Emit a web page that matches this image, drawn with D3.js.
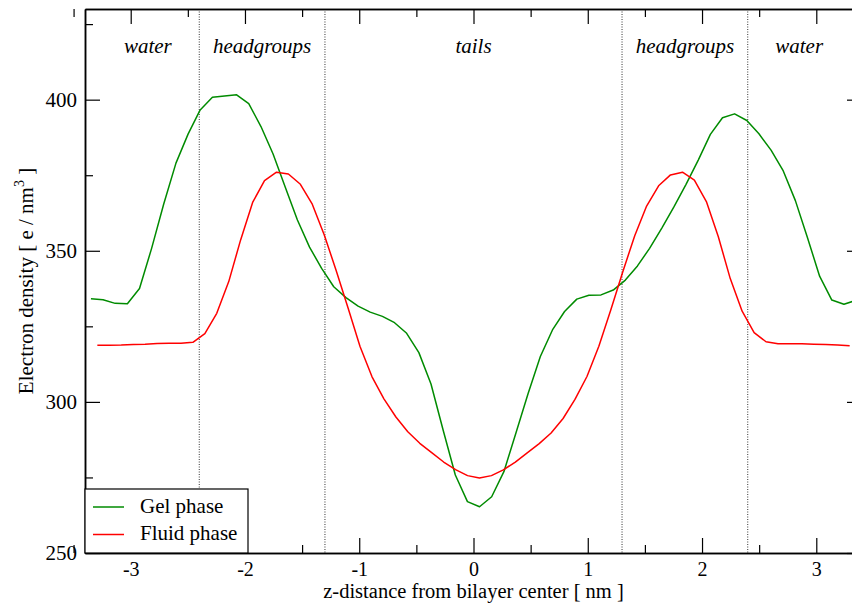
<!DOCTYPE html>
<html>
<head>
<meta charset="utf-8">
<script src="https://cdn.jsdelivr.net/npm/d3@7"></script>
<style>
  body { margin: 0; background: #fff; }
  svg { display: block; overflow: hidden; }
  text { font-family: "Liberation Serif", "Times New Roman", serif; fill: #000; }
</style>
</head>
<body>
<svg id="chart" width="852" height="607"></svg>
<script>
// Electron density profiles across the bilayer (z in nm, density in e/nm^3)
const gelZ = [
  -3.348, -3.242, -3.136, -3.029, -2.923, -2.817, -2.711, -2.604,
  -2.498, -2.392, -2.285, -2.179, -2.073, -1.967, -1.860, -1.754,
  -1.648, -1.541, -1.435, -1.329, -1.223, -1.116, -1.010, -0.904,
  -0.797, -0.691, -0.585, -0.478, -0.372, -0.266, -0.159, -0.053,
   0.053,  0.159,  0.266,  0.372,  0.478,  0.585,  0.691,  0.797,
   0.904,  1.010,  1.116,  1.223,  1.329,  1.435,  1.541,  1.648,
   1.754,  1.860,  1.967,  2.073,  2.179,  2.285,  2.392,  2.498,
   2.604,  2.711,  2.817,  2.923,  3.029,  3.136,  3.242,  3.348
];
const gelDensity = [
  334.1, 333.8, 332.6, 332.5, 337.5, 350.8, 365.5, 379.0,
  388.6, 396.6, 400.8, 401.2, 401.6, 398.7, 391.1, 382.0,
  371.1, 360.2, 351.2, 344.2, 338.1, 334.5, 331.7, 329.7,
  328.3, 326.2, 322.7, 316.3, 305.9, 290.7, 275.8, 267.0,
  265.3, 268.6, 276.9, 289.8, 302.8, 315.0, 323.8, 329.9,
  334.0, 335.3, 335.4, 337.0, 340.3, 345.0, 350.8, 357.5,
  364.5, 372.0, 380.0, 388.5, 394.0, 395.3, 393.1, 388.7,
  383.3, 376.4, 366.6, 354.3, 341.6, 333.7, 332.3, 333.6
];

const fluidZ = [
  -3.292, -3.187, -3.083, -2.978, -2.874, -2.769, -2.665, -2.560,
  -2.456, -2.351, -2.247, -2.142, -2.038, -1.933, -1.829, -1.724,
  -1.620, -1.515, -1.411, -1.306, -1.202, -1.097, -0.993, -0.888,
  -0.784, -0.679, -0.575, -0.470, -0.366, -0.261, -0.157, -0.052,
   0.052,  0.157,  0.261,  0.366,  0.470,  0.575,  0.679,  0.784,
   0.888,  0.993,  1.097,  1.202,  1.306,  1.411,  1.515,  1.620,
   1.724,  1.829,  1.933,  2.038,  2.142,  2.247,  2.351,  2.456,
   2.560,  2.665,  2.769,  2.874,  2.978,  3.083,  3.187,  3.292
];
const fluidDensity = [
  318.7, 318.7, 318.8, 319.0, 319.1, 319.3, 319.4, 319.4,
  319.7, 322.6, 329.3, 339.8, 353.6, 366.0, 373.2, 376.0,
  375.4, 372.0, 365.4, 355.2, 343.5, 331.0, 318.3, 308.3,
  301.0, 295.0, 290.1, 286.3, 283.2, 280.1, 277.6, 275.6,
  274.8, 275.6, 277.5, 280.1, 283.1, 286.2, 289.7, 294.5,
  300.8, 308.4, 318.4, 330.5, 343.0, 355.0, 364.8, 371.5,
  375.1, 376.0, 373.4, 366.3, 354.7, 340.8, 330.0, 322.9,
  319.9, 319.2, 319.2, 319.2, 319.1, 319.0, 318.8, 318.6
];

const seriesNames = ["Gel phase", "Fluid phase"];
const seriesColors = ["#008b00", "#ff0000"];

const xMajorTicks = [-3, -2, -1, 0, 1, 2, 3];
const xMinorTicks = [-3.5, -2.5, -1.5, -0.5, 0.5, 1.5, 2.5, 3.5];
const yMajorTicks = [250, 300, 350, 400];
const yMinorTicks = [275, 325, 375, 425];

// Boundaries between water / headgroup / tail regions, and their labels
const regionBounds = [-2.4, -1.3, 1.3, 2.4];
const regionNames = ["water", "headgroups", "tails", "headgroups", "water"];
const regionCenters = [-2.85, -1.85, 0, 1.85, 2.85];
const regionLabelLevel = 415.5;

const xTitle = "z-distance from bilayer center [ nm ]";

// ---- layout
const plot = { left: 85, right: 862, top: 9, bottom: 553 };
const svg = d3.select("#chart");

const x = d3.scaleLinear().domain([-3.4, 3.4]).range([plot.left, plot.right]);
const y = d3.scaleLinear().domain([250, 430]).range([plot.bottom, plot.top]);

// region separators (dotted)
svg.append("g").selectAll("line").data(regionBounds).join("line")
  .attr("x1", d => x(d)).attr("x2", d => x(d))
  .attr("y1", plot.top).attr("y2", plot.bottom)
  .attr("stroke", "#333").attr("stroke-width", 1)
  .attr("stroke-dasharray", "1,1.5");

// region labels
svg.append("g").selectAll("text").data(regionNames).join("text")
  .attr("x", (d, i) => x(regionCenters[i]))
  .attr("y", y(regionLabelLevel))
  .attr("text-anchor", "middle")
  .attr("font-style", "italic")
  .attr("font-size", 21)
  .text(d => d);

// data curves
const line = d3.line().x(d => x(d[0])).y(d => y(d[1]));
const series = [
  d3.zip(gelZ, gelDensity),
  d3.zip(fluidZ, fluidDensity)
];
svg.append("g").selectAll("path").data(series).join("path")
  .attr("d", line)
  .attr("fill", "none")
  .attr("stroke", (d, i) => seriesColors[i])
  .attr("stroke-width", 1.5)
  .attr("stroke-linejoin", "round");

// ---- axes (ticks point inward on all four sides)
function styleAxis(size) {
  return g => {
    g.select(".domain").attr("stroke", "#000").attr("stroke-width", 1.5);
    g.selectAll(".tick line").attr("stroke", "#000").attr("stroke-width", 1.2);
    g.selectAll(".tick text").attr("font-family", "Liberation Serif, serif")
      .attr("font-size", size).attr("fill", "#000");
  };
}
const plainNumber = d => String(d);

svg.append("g").attr("transform", `translate(0,${plot.bottom})`)
  .call(d3.axisBottom(x).tickValues(xMinorTicks).tickSizeInner(-8).tickSizeOuter(0).tickFormat(""))
  .call(styleAxis(20));
svg.append("g").attr("transform", `translate(0,${plot.bottom})`)
  .call(d3.axisBottom(x).tickValues(xMajorTicks).tickSizeInner(-15).tickSizeOuter(0)
    .tickPadding(8.5).tickFormat(plainNumber))
  .call(styleAxis(20));

svg.append("g").attr("transform", `translate(0,${plot.top})`)
  .call(d3.axisTop(x).tickValues(xMinorTicks).tickSizeInner(-8).tickSizeOuter(0).tickFormat(""))
  .call(styleAxis(20));
svg.append("g").attr("transform", `translate(0,${plot.top})`)
  .call(d3.axisTop(x).tickValues(xMajorTicks).tickSizeInner(-15).tickSizeOuter(0).tickFormat(""))
  .call(styleAxis(20));

svg.append("g").attr("transform", `translate(${plot.left},0)`)
  .call(d3.axisLeft(y).tickValues(yMinorTicks).tickSizeInner(-8).tickSizeOuter(0).tickFormat(""))
  .call(styleAxis(21));
svg.append("g").attr("transform", `translate(${plot.left},0)`)
  .call(d3.axisLeft(y).tickValues(yMajorTicks).tickSizeInner(-15).tickSizeOuter(0)
    .tickPadding(8).tickFormat(plainNumber))
  .call(styleAxis(21));

svg.append("g").attr("transform", `translate(${plot.right},0)`)
  .call(d3.axisRight(y).tickValues(yMinorTicks).tickSizeInner(-8).tickSizeOuter(0).tickFormat(""))
  .call(styleAxis(21));
svg.append("g").attr("transform", `translate(${plot.right},0)`)
  .call(d3.axisRight(y).tickValues(yMajorTicks).tickSizeInner(-15).tickSizeOuter(0).tickFormat(""))
  .call(styleAxis(21));

// axis titles
svg.append("text")
  .attr("x", 473.5).attr("y", 598)
  .attr("text-anchor", "middle").attr("font-size", 20.5)
  .text(xTitle);

const yTitle = svg.append("text")
  .attr("transform", `translate(33,${(plot.top + plot.bottom) / 2}) rotate(-90)`)
  .attr("text-anchor", "middle").attr("font-size", 21);
yTitle.append("tspan").text("Electron density [ e / nm");
yTitle.append("tspan").attr("font-size", 14).attr("dy", -9).text("3");
yTitle.append("tspan").attr("dy", 9).text(" ]");

// ---- legend
const legend = svg.append("g");
legend.append("rect")
  .attr("x", plot.left).attr("y", 489).attr("width", 163).attr("height", 64)
  .attr("fill", "#fff").attr("stroke", "#000").attr("stroke-width", 1.2);
const items = legend.selectAll("g.item").data(seriesNames).join("g")
  .attr("class", "item")
  .attr("transform", (d, i) => `translate(0,${507 + i * 27.5})`);
items.append("line")
  .attr("x1", 93).attr("x2", 124).attr("y1", 0).attr("y2", 0)
  .attr("stroke", (d, i) => seriesColors[i]).attr("stroke-width", 1.5);
items.append("text")
  .attr("x", 140).attr("y", 5.5).attr("font-size", 21)
  .text(d => d);
</script>
</body>
</html>
